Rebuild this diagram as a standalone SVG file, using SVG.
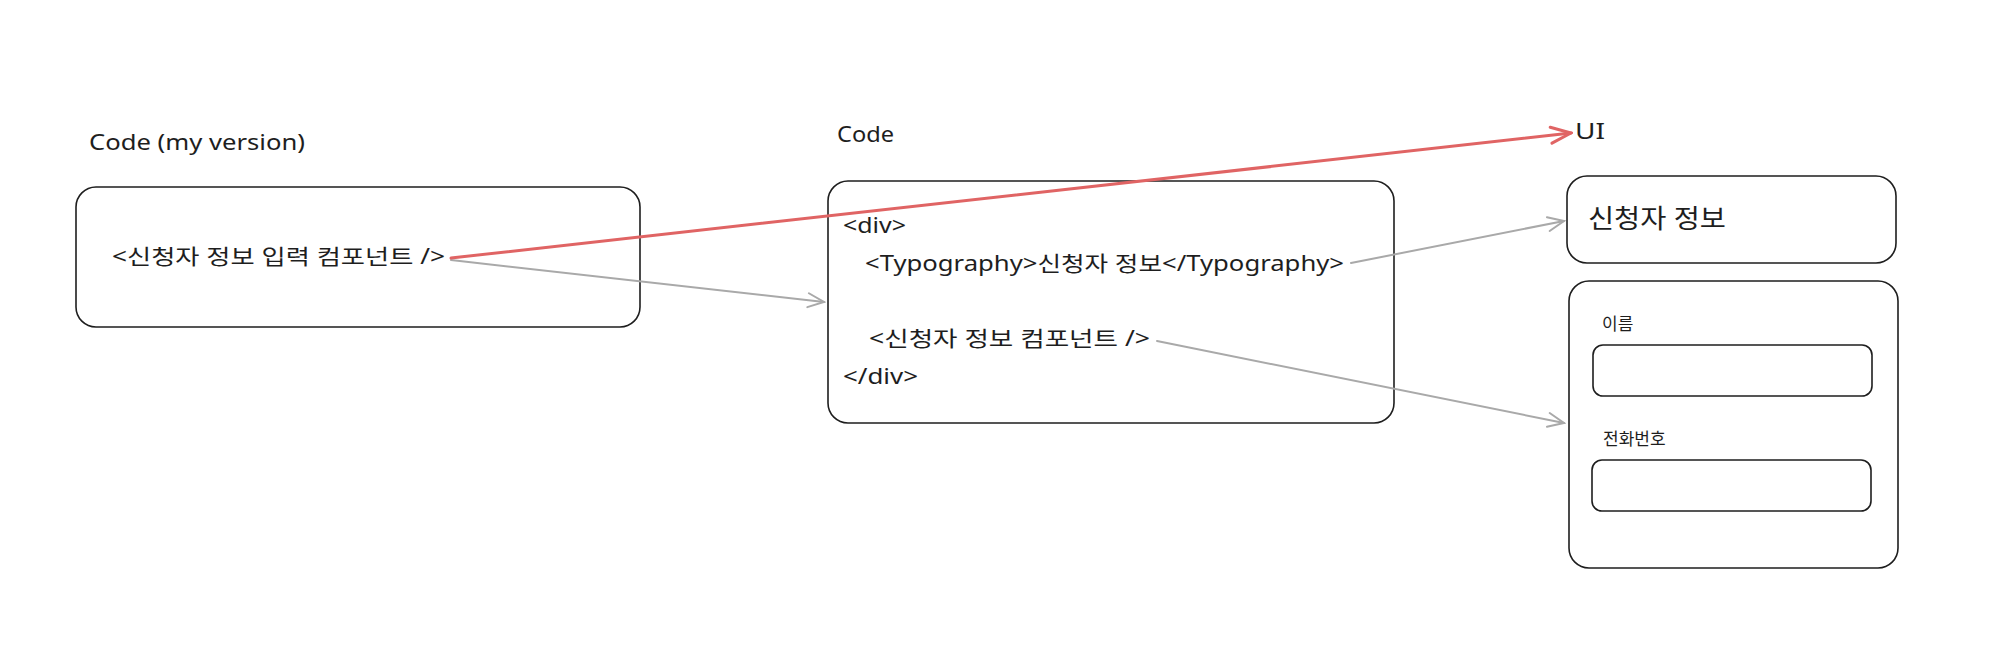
<svg xmlns="http://www.w3.org/2000/svg" width="1994" height="660" viewBox="0 0 1994 660">
<defs>
<style>
.box{fill:none;stroke:#1e1e1e;stroke-width:1.6}
.lbl{font-family:"Noto Sans","Noto Sans CJK KR",sans-serif;fill:#1e1e1e}
.code{font-family:"Noto Sans","Noto Sans CJK KR",sans-serif;fill:#1e1e1e;font-size:21px}
.gray{fill:none;stroke:#a9a9a9;stroke-width:2;stroke-linecap:round}
.red{fill:none;stroke:#e06464;stroke-width:3;stroke-linecap:round}
</style>
<marker id="ag" viewBox="0 0 20 20" refX="18" refY="10" markerWidth="20" markerHeight="20" markerUnits="userSpaceOnUse" orient="auto"><path d="M2,3 L18,10 L2,17" fill="none" stroke="#a9a9a9" stroke-width="2" stroke-linecap="round"/></marker>
<marker id="ar" viewBox="0 0 24 24" refX="22" refY="12" markerWidth="24" markerHeight="24" markerUnits="userSpaceOnUse" orient="auto"><path d="M2,4 L22,12 L2,20" fill="none" stroke="#e06464" stroke-width="3" stroke-linecap="round"/></marker>
</defs>
<rect width="1994" height="660" fill="#ffffff"/>
<g id="label-code-my"><text class="lbl" x="89" y="150" font-size="22" textLength="216" lengthAdjust="spacingAndGlyphs">Code (my version)</text></g>
<g id="label-code"><text class="lbl" x="837" y="142" font-size="22" textLength="57" lengthAdjust="spacingAndGlyphs">Code</text></g>
<g id="label-ui"><text class="lbl" x="1575" y="139" font-size="22" textLength="30" lengthAdjust="spacingAndGlyphs">UI</text></g>
<g id="node-my"><rect class="box" x="76" y="187" width="564" height="140" rx="20"/><text class="code" x="112" y="264" textLength="333" lengthAdjust="spacingAndGlyphs">&lt;신청자 정보 입력 컴포넌트 /&gt;</text></g>
<g id="node-code"><rect class="box" x="828" y="181" width="566" height="242" rx="20"/>
<text class="code" x="843" y="233" textLength="63" lengthAdjust="spacingAndGlyphs">&lt;div&gt;</text>
<text class="code" x="865" y="271" textLength="479" lengthAdjust="spacingAndGlyphs">&lt;Typography&gt;신청자 정보&lt;/Typography&gt;</text>
<text class="code" x="869" y="346" textLength="281" lengthAdjust="spacingAndGlyphs">&lt;신청자 정보 컴포넌트 /&gt;</text>
<text class="code" x="843" y="384" textLength="75" lengthAdjust="spacingAndGlyphs">&lt;/div&gt;</text></g>
<g id="node-ui-title"><rect class="box" x="1567" y="176" width="329" height="87" rx="20"/><text class="lbl" x="1588" y="228" font-size="26" textLength="138" lengthAdjust="spacingAndGlyphs">신청자 정보</text></g>
<g id="node-ui-form"><rect class="box" x="1569" y="281" width="329" height="287" rx="20"/>
<text class="lbl" x="1602" y="330" font-size="17">이름</text>
<rect class="box" x="1593" y="345" width="279" height="51" rx="10"/>
<text class="lbl" x="1603" y="445" font-size="17">전화번호</text>
<rect class="box" x="1592" y="460" width="279" height="51" rx="10"/></g>
<g id="connectors">
<path class="gray" d="M451,260 L824,302" marker-end="url(#ag)"/>
<path class="gray" d="M1351,263 L1564,221" marker-end="url(#ag)"/>
<path class="gray" d="M1157,341 L1564,423" marker-end="url(#ag)"/>
<path class="red" d="M451,258 L1571,133" marker-end="url(#ar)"/>
</g>
</svg>
